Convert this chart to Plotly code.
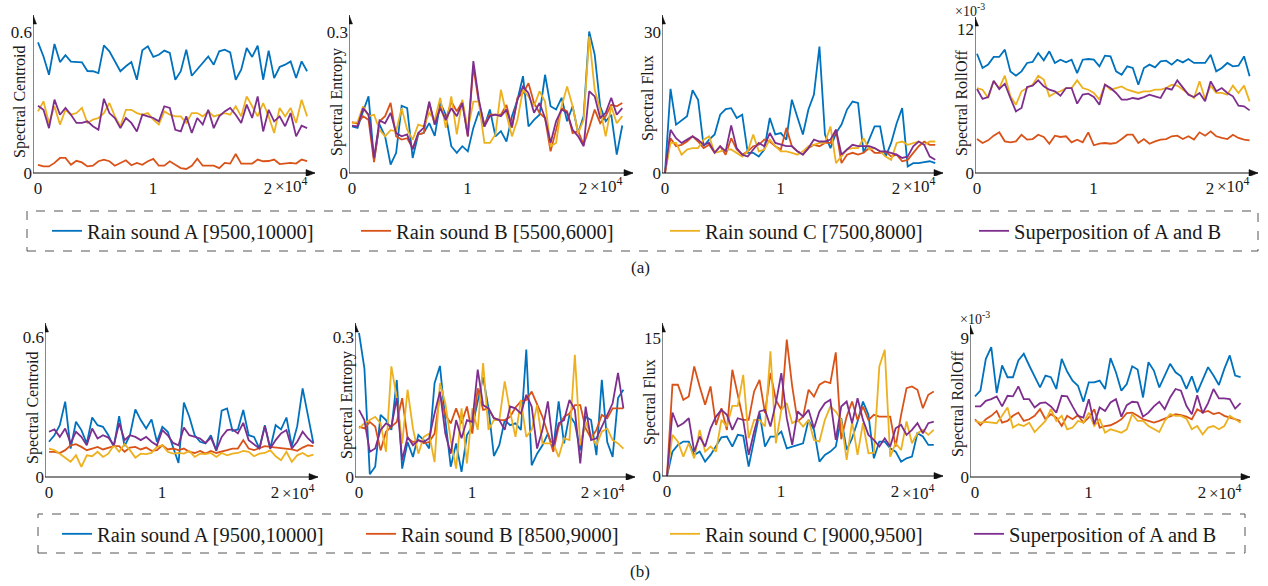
import numpy as np
import plotly.graph_objects as go

W, H = 1268, 586
FONT = "'Times New Roman', 'Liberation Serif', Tinos, serif"

# ---------------- sample positions (time axis) ----------------
t = np.linspace(0, 23400, 50)

# ---------------- (a) values ----------------
cen_a_A = [0.556,0.496,0.418,0.549,0.472,0.501,0.474,0.474,0.471,0.434,0.433,0.425,0.543,0.518,0.475,0.433,0.454,0.472,0.397,0.522,0.539,0.494,0.503,0.521,0.511,0.397,0.433,0.525,0.414,0.440,0.468,0.496,0.461,0.518,0.525,0.513,0.397,0.440,0.532,0.494,0.542,0.397,0.521,0.404,0.451,0.461,0.475,0.404,0.475,0.433]
cen_a_B = [0.035,0.028,0.028,0.043,0.064,0.064,0.035,0.052,0.045,0.028,0.031,0.050,0.057,0.050,0.031,0.043,0.054,0.033,0.043,0.035,0.050,0.060,0.031,0.031,0.050,0.035,0.021,0.017,0.031,0.061,0.031,0.031,0.031,0.021,0.043,0.040,0.081,0.040,0.040,0.040,0.057,0.050,0.051,0.057,0.038,0.040,0.043,0.040,0.057,0.051]
cen_a_C = [0.262,0.305,0.213,0.284,0.206,0.269,0.248,0.255,0.277,0.213,0.227,0.234,0.255,0.298,0.241,0.199,0.269,0.269,0.255,0.248,0.255,0.227,0.206,0.262,0.248,0.241,0.241,0.213,0.255,0.255,0.241,0.262,0.241,0.248,0.255,0.248,0.284,0.241,0.326,0.284,0.241,0.298,0.241,0.170,0.277,0.241,0.277,0.213,0.312,0.241]
cen_a_S = [0.286,0.269,0.191,0.312,0.248,0.277,0.248,0.213,0.213,0.220,0.199,0.184,0.316,0.255,0.234,0.191,0.234,0.213,0.177,0.248,0.241,0.234,0.220,0.284,0.277,0.184,0.177,0.241,0.170,0.234,0.206,0.269,0.191,0.241,0.262,0.277,0.248,0.213,0.291,0.234,0.326,0.177,0.269,0.220,0.241,0.199,0.255,0.156,0.201,0.191]

ent_a_A = [0.099,0.096,0.131,0.163,0.028,0.103,0.078,0.018,0.043,0.143,0.138,0.032,0.082,0.085,0.106,0.079,0.149,0.124,0.057,0.043,0.057,0.046,0.096,0.131,0.099,0.135,0.078,0.089,0.067,0.121,0.156,0.206,0.099,0.113,0.124,0.209,0.142,0.135,0.160,0.110,0.142,0.085,0.121,0.301,0.252,0.142,0.110,0.124,0.039,0.101]
ent_a_B = [0.108,0.105,0.121,0.113,0.023,0.110,0.121,0.149,0.078,0.071,0.074,0.053,0.082,0.085,0.149,0.103,0.142,0.112,0.152,0.131,0.152,0.078,0.227,0.149,0.103,0.124,0.124,0.124,0.145,0.096,0.160,0.170,0.191,0.149,0.128,0.117,0.046,0.092,0.138,0.131,0.085,0.089,0.060,0.096,0.135,0.106,0.121,0.145,0.142,0.149]
ent_a_C = [0.106,0.108,0.142,0.121,0.124,0.092,0.078,0.091,0.089,0.138,0.092,0.071,0.103,0.099,0.128,0.113,0.160,0.096,0.163,0.082,0.156,0.092,0.152,0.152,0.064,0.064,0.082,0.177,0.124,0.078,0.113,0.177,0.163,0.142,0.174,0.152,0.057,0.064,0.142,0.184,0.142,0.085,0.113,0.291,0.177,0.135,0.078,0.142,0.106,0.121]
ent_a_S = [0.101,0.099,0.138,0.124,0.032,0.112,0.106,0.128,0.085,0.078,0.082,0.050,0.085,0.096,0.152,0.103,0.138,0.113,0.138,0.121,0.149,0.078,0.238,0.156,0.099,0.121,0.124,0.121,0.135,0.099,0.156,0.184,0.170,0.128,0.149,0.117,0.064,0.110,0.135,0.128,0.092,0.078,0.057,0.174,0.163,0.117,0.128,0.160,0.124,0.138]

flux_a_A = [0,17.9,10.3,11.3,12.1,17.6,15.6,5.7,7.1,8.2,12.4,13.6,13.8,11.7,12.4,4.3,4.3,3.5,5.0,11.7,8.2,8.5,7.1,15.6,12.1,8.2,13.5,16.7,26.9,8.2,5.3,8.5,10.3,13.5,15.2,14.9,4.3,7.1,9.9,9.9,3.5,6.4,10.6,13.8,1.4,2.1,2.1,2.3,2.5,2.1]
flux_a_B = [0,7.4,5.7,6.0,6.7,7.8,6.7,5.3,6.0,4.3,5.7,3.9,7.4,5.0,3.9,4.6,5.7,6.0,7.1,6.7,5.7,5.0,9.6,5.7,4.6,3.9,5.3,6.0,5.7,6.4,6.4,9.2,2.1,3.9,4.3,3.9,4.3,5.3,4.3,4.3,4.6,3.5,3.9,2.5,2.8,4.3,5.7,6.7,6.0,6.0]
flux_a_C = [0,6.4,6.4,3.9,5.0,5.3,5.3,7.1,7.8,4.3,4.6,5.0,5.0,4.3,3.5,4.6,8.2,4.6,5.0,7.1,5.7,4.6,4.6,4.3,3.9,4.6,5.7,6.0,6.4,6.4,9.9,2.1,3.5,5.0,5.3,5.3,7.4,5.0,5.3,4.6,3.5,2.8,6.4,6.7,6.0,6.4,6.7,6.0,6.7,6.7]
flux_a_S = [0,9.2,7.4,6.4,7.1,7.8,7.1,6.0,6.4,4.3,5.7,4.6,10.1,5.3,3.9,3.5,5.0,6.4,5.7,8.5,6.4,6.0,5.7,5.7,4.6,3.9,5.3,7.1,6.7,6.7,7.1,9.2,3.9,5.0,6.0,5.7,5.7,5.7,5.3,4.6,4.6,4.3,3.9,3.2,3.5,5.7,6.7,6.0,3.5,2.8]

# Spectral RollOff values in units of 1e-3
roll_a_A = [9.94,8.75,9.03,9.67,9.67,10.28,8.47,8.11,8.47,9.17,9.25,10.0,9.39,10.14,9.17,9.44,9.22,9.44,8.33,9.44,9.5,9.44,8.89,9.78,9.72,8.47,8.19,8.89,8.75,7.36,8.75,9.03,8.81,9.31,9.36,9.03,9.44,9.22,9.5,9.17,9.17,9.17,9.86,8.47,8.75,9.17,8.89,8.94,9.72,8.06]
roll_a_B = [2.83,2.5,2.72,3.11,3.39,2.64,2.56,2.64,3.19,2.78,2.83,3.19,3.0,2.44,3.11,3.0,3.06,2.56,2.78,2.56,3.39,2.31,2.44,2.5,2.44,2.5,2.83,3.19,3.19,2.5,2.83,2.44,2.64,2.78,2.83,3.06,3.11,2.83,3.06,2.78,3.39,3.11,3.47,3.06,2.92,2.83,3.19,2.92,2.78,2.72]
roll_a_C = [7.08,6.94,6.25,7.64,7.08,8.11,6.39,5.69,6.81,7.08,7.36,8.11,7.78,6.39,6.67,6.81,7.08,7.08,7.72,7.08,6.94,6.67,6.11,7.36,6.94,7.08,7.22,6.94,6.81,6.67,6.81,6.81,6.94,6.94,7.08,7.36,7.28,6.94,6.53,6.25,7.64,6.17,7.28,6.67,6.67,6.53,7.28,6.67,7.28,5.97]
roll_a_S = [7.0,6.17,6.33,7.69,7.0,7.44,6.25,5.14,5.42,7.17,7.28,7.72,7.22,6.94,6.81,6.44,7.08,7.08,5.78,6.53,6.61,6.33,5.69,7.36,7.08,6.67,6.11,6.11,6.25,6.17,6.33,6.53,6.39,6.25,7.08,6.94,7.72,7.17,6.53,6.33,6.67,5.97,7.64,6.81,7.08,6.67,6.39,5.61,5.56,5.22]

# ---------------- (b) values ----------------
cen_b_A = [0.151,0.179,0.222,0.323,0.122,0.237,0.201,0.144,0.255,0.222,0.215,0.179,0.129,0.261,0.132,0.179,0.290,0.244,0.208,0.247,0.151,0.215,0.194,0.122,0.060,0.319,0.258,0.179,0.151,0.144,0.179,0.112,0.284,0.294,0.198,0.204,0.287,0.179,0.172,0.122,0.222,0.122,0.222,0.204,0.255,0.132,0.218,0.380,0.258,0.144]
cen_b_B = [0.108,0.108,0.103,0.115,0.136,0.141,0.129,0.115,0.122,0.129,0.118,0.126,0.132,0.132,0.108,0.126,0.129,0.118,0.126,0.112,0.115,0.136,0.118,0.122,0.115,0.122,0.108,0.103,0.112,0.100,0.112,0.103,0.108,0.115,0.122,0.122,0.158,0.122,0.115,0.122,0.132,0.129,0.126,0.122,0.122,0.118,0.112,0.126,0.136,0.132]
cen_b_C = [0.122,0.115,0.100,0.083,0.065,0.093,0.043,0.093,0.089,0.108,0.086,0.100,0.136,0.108,0.141,0.115,0.083,0.100,0.098,0.103,0.129,0.136,0.108,0.100,0.103,0.100,0.112,0.086,0.100,0.098,0.103,0.086,0.103,0.093,0.100,0.103,0.112,0.108,0.089,0.100,0.103,0.115,0.089,0.072,0.108,0.065,0.093,0.103,0.089,0.096]
cen_b_S = [0.194,0.204,0.172,0.208,0.144,0.194,0.172,0.136,0.208,0.165,0.179,0.169,0.136,0.230,0.158,0.179,0.172,0.158,0.172,0.151,0.136,0.201,0.179,0.146,0.136,0.212,0.179,0.172,0.165,0.146,0.169,0.115,0.172,0.201,0.204,0.187,0.232,0.158,0.141,0.122,0.218,0.122,0.158,0.187,0.201,0.122,0.151,0.194,0.165,0.144]

ent_b_A = [0.309,0.233,0.006,0.022,0.133,0.122,0.101,0.208,0.018,0.075,0.043,0.090,0.079,0.061,0.201,0.238,0.122,0.022,0.072,0.011,0.090,0.108,0.162,0.214,0.147,0.045,0.068,0.122,0.111,0.115,0.101,0.273,0.025,0.050,0.068,0.093,0.061,0.162,0.072,0.133,0.115,0.057,0.129,0.122,0.047,0.208,0.075,0.043,0.169,0.187]
ent_b_B = [0.108,0.104,0.118,0.108,0.057,0.097,0.108,0.118,0.169,0.083,0.075,0.079,0.072,0.075,0.093,0.176,0.133,0.115,0.147,0.115,0.151,0.093,0.190,0.144,0.147,0.126,0.122,0.122,0.129,0.149,0.162,0.165,0.183,0.154,0.129,0.093,0.054,0.108,0.129,0.136,0.154,0.154,0.104,0.083,0.101,0.133,0.126,0.147,0.147,0.147]
ent_b_C = [0.104,0.115,0.122,0.129,0.115,0.054,0.237,0.169,0.072,0.187,0.104,0.050,0.086,0.093,0.032,0.201,0.158,0.079,0.018,0.147,0.029,0.147,0.101,0.244,0.101,0.122,0.122,0.205,0.140,0.086,0.165,0.086,0.101,0.154,0.072,0.072,0.072,0.043,0.083,0.079,0.262,0.068,0.118,0.090,0.068,0.097,0.104,0.079,0.072,0.061]
ent_b_S = [0.144,0.122,0.054,0.061,0.101,0.115,0.108,0.169,0.036,0.086,0.068,0.079,0.075,0.083,0.136,0.183,0.093,0.050,0.122,0.083,0.122,0.118,0.230,0.154,0.147,0.126,0.122,0.101,0.151,0.147,0.136,0.176,0.151,0.061,0.101,0.162,0.065,0.115,0.122,0.165,0.144,0.029,0.151,0.079,0.083,0.108,0.136,0.158,0.223,0.147]

flux_b_A = [0,2.65,3.38,3.74,3.74,2.29,2.65,1.56,2.29,3.20,4.21,4.29,3.20,4.47,4.36,1.02,3.74,6.83,3.20,4.29,4.29,4.83,3.01,3.20,3.38,3.56,6.10,5.01,1.56,2.29,2.65,3.20,6.28,2.83,4.10,5.92,8.10,6.65,1.92,3.74,3.74,3.01,2.65,1.56,1.92,2.11,4.65,4.29,3.38,3.38]
flux_b_B = [0,9.92,9.92,8.28,8.64,11.91,9.73,7.74,9.73,5.56,7.37,5.01,11.55,8.83,6.10,6.10,9.19,10.46,6.83,11.19,8.28,7.19,14.82,9.73,5.92,6.46,9.37,8.64,9.92,10.28,10.10,13.44,4.0,6.46,8.10,6.10,7.55,6.10,6.65,6.46,6.46,6.46,3.20,6.65,9.55,9.73,9.37,7.37,8.83,9.19]
flux_b_C = [0,4.47,3.74,2.11,3.56,1.92,5.01,2.65,3.20,2.65,6.10,5.38,7.63,7.63,11.0,4.10,6.10,6.10,5.38,13.55,3.56,7.19,7.92,5.74,6.10,5.38,6.10,3.92,3.74,6.10,7.55,7.01,6.10,1.74,5.92,2.29,5.74,2.47,2.54,11.91,13.73,2.11,3.56,2.83,5.92,3.56,4.65,5.01,4.47,5.01]
flux_b_S = [0,6.90,5.38,5.74,6.28,2.65,4.29,3.20,5.19,6.46,7.19,6.65,5.01,6.28,6.10,2.29,4.83,7.01,7.19,5.38,7.92,11.19,6.28,3.38,7.01,6.46,7.19,5.19,7.01,7.92,8.28,3.92,7.55,8.10,5.74,8.46,6.10,4.47,3.92,3.20,4.10,3.20,5.19,5.56,4.47,5.01,5.74,4.65,5.74,5.92]

roll_b_A = [5.22,5.59,7.65,8.41,5.44,7.22,6.46,6.46,7.54,7.98,7.22,6.46,5.80,6.57,6.46,5.70,7.65,6.83,6.24,5.91,4.87,6.13,6.13,6.24,5.70,7.70,6.78,5.59,6.02,7.17,6.96,5.15,7.43,6.89,5.80,6.57,7.33,6.78,6.52,5.70,6.52,5.48,6.35,7.11,6.57,5.96,7.0,7.87,6.57,6.46]
roll_b_B = [3.74,3.35,3.74,3.96,4.28,3.52,3.63,3.96,4.17,3.63,3.74,3.96,4.39,3.74,4.07,3.85,3.30,3.96,3.74,4.0,3.52,3.85,4.39,3.20,3.30,3.35,3.52,3.74,4.13,4.17,3.96,3.74,3.63,3.52,3.63,3.78,3.96,4.07,4.0,3.91,3.74,4.39,4.17,4.28,4.07,4.17,3.96,3.85,3.74,3.63]
roll_b_C = [3.63,3.52,3.57,3.52,3.48,3.96,4.50,3.20,3.41,3.30,3.52,2.91,3.30,3.63,4.39,3.63,3.96,3.09,3.20,3.63,3.52,4.17,3.30,3.74,2.87,3.09,2.98,2.87,3.09,4.07,3.63,3.63,3.30,3.09,2.91,3.63,4.07,3.96,3.96,3.78,3.09,3.30,2.76,3.20,3.30,3.09,3.30,3.96,3.74,3.52]
roll_b_S = [4.57,4.57,4.93,5.04,5.22,4.57,5.26,5.22,5.87,5.04,5.04,4.50,4.78,4.83,4.57,4.17,5.26,5.22,4.57,3.96,3.85,5.04,3.41,4.50,4.28,4.83,5.04,3.91,4.65,4.87,4.83,3.91,4.17,4.57,4.87,4.39,5.15,5.70,5.59,4.61,4.07,5.30,4.13,4.78,5.70,5.09,5.09,5.04,4.43,4.78]

names_a = ["Rain sound A [9500,10000]", "Rain sound B [5500,6000]",
           "Rain sound C [7500,8000]", "Superposition of A and B"]
names_b = ["Rain sound A [9500,10000]", "Rain sound B [8500,9000]",
           "Rain sound C [9000,9500]", "Superposition of A and B"]
colors = ["#0072BD", "#D95319", "#EDB120", "#7E2F8E"]

ytitles = ["Spectral Centroid", "Spectral Entropy", "Spectral Flux", "Spectral RollOff"]
ytop = [0.6, 0.3, 30, 12, 0.6, 0.3, 15, 9]
ytop_txt = ["0.6", "0.3", "30", "12", "0.6", "0.3", "15", "9"]

series = [
    [cen_a_A, cen_a_B, cen_a_C, cen_a_S],
    [ent_a_A, ent_a_B, ent_a_C, ent_a_S],
    [flux_a_A, flux_a_B, flux_a_C, flux_a_S],
    [roll_a_A, roll_a_B, roll_a_C, roll_a_S],
    [cen_b_A, cen_b_B, cen_b_C, cen_b_S],
    [ent_b_A, ent_b_B, ent_b_C, ent_b_S],
    [flux_b_A, flux_b_B, flux_b_C, flux_b_S],
    [roll_b_A, roll_b_B, roll_b_C, roll_b_S],
]

# ---------------- panel geometry (pixels) ----------------
geo = [
    dict(px0=38, ppx=115, axL=33, axR=315, py0=173, pyT=32, top=15, tx=20, ty=102, lab=185),
    dict(px0=352, ppx=115.5, axL=349, axR=633, py0=173, pyT=32, top=15, tx=337, ty=102, lab=185),
    dict(px0=665, ppx=115.5, axL=662, axR=943, py0=173, pyT=32, top=15, tx=648, ty=98, lab=185),
    dict(px0=977, ppx=116.5, axL=975, axR=1258, py0=173, pyT=29, top=17, tx=962, ty=102, lab=185),
    dict(px0=49, ppx=113, axL=45, axR=318, py0=477, pyT=337, top=323, tx=33, ty=408, lab=492),
    dict(px0=359, ppx=113, axL=355, axR=635, py0=477, pyT=337, top=323, tx=347, ty=405, lab=492),
    dict(px0=667, ppx=114, axL=662, axR=943, py0=476, pyT=338, top=323, tx=650, ty=402, lab=492),
    dict(px0=975, ppx=113.5, axL=970, axR=1250, py0=477, pyT=338, top=325, tx=958, ty=404, lab=492),
]

fig = go.Figure()
annotations = []
shapes = []
tickfont = dict(family=FONT, size=17, color="#1a1a1a")
AX = "#111111"

for i, g in enumerate(geo):
    k = i + 1
    xs = "x" if k == 1 else f"x{k}"
    ys = "y" if k == 1 else f"y{k}"
    xr = [(g["axL"] - g["px0"]) / g["ppx"] * 1e4, (g["axR"] - g["px0"]) / g["ppx"] * 1e4]
    ppy = (g["py0"] - g["pyT"]) / ytop[i]
    pad = 3
    yr = [-pad / ppy, (g["py0"] - g["top"]) / ppy]
    fig.layout["xaxis" if k == 1 else f"xaxis{k}"] = dict(
        domain=[g["axL"] / W, g["axR"] / W], range=xr, anchor=ys,
        tickvals=[0, 1e4, 2e4], ticktext=["0", "1", "2"], ticks="",
        showgrid=False, zeroline=False, showline=False, tickfont=tickfont,
    )
    fig.layout["yaxis" if k == 1 else f"yaxis{k}"] = dict(
        domain=[1 - (g["py0"] + pad) / H, 1 - g["top"] / H], range=yr, anchor=xs,
        tickvals=[0, ytop[i]], ticktext=["0", ytop_txt[i]], ticks="",
        showgrid=False, zeroline=False, showline=False, tickfont=tickfont,
    )
    names = names_a if k <= 4 else names_b
    leg = "legend" if k <= 4 else "legend2"
    for j in range(4):
        fig.add_trace(go.Scatter(
            x=t, y=series[i][j], mode="lines", name=names[j],
            line=dict(color=colors[j], width=1.8),
            xaxis=xs, yaxis=ys, legend=leg,
            showlegend=(k in (1, 5)),
            legendwidth=(210 if j == 3 else None),
        ))
    # axis lines
    shapes.append(dict(type="line", xref=xs, yref=ys, x0=xr[0], x1=xr[1], y0=0, y1=0,
                       line=dict(color=AX, width=1)))
    shapes.append(dict(type="line", xref=xs, yref=ys, x0=xr[0], x1=xr[0], y0=0, y1=yr[1],
                       line=dict(color=AX, width=1)))
    # arrow heads (pixel-sized triangles anchored at the axis ends)
    shapes.append(dict(type="path", xref=xs, yref=ys, xsizemode="pixel", ysizemode="pixel",
                       xanchor=xr[1], yanchor=0, path="M0,0 L-9,3.5 L-9,-3.5 Z",
                       fillcolor=AX, line=dict(color=AX, width=0.5)))
    shapes.append(dict(type="path", xref=xs, yref=ys, xsizemode="pixel", ysizemode="pixel",
                       xanchor=xr[0], yanchor=yr[1], path="M0,0 L-3.5,-9 L3.5,-9 Z",
                       fillcolor=AX, line=dict(color=AX, width=0.5)))
    annotations.append(dict(x=2e4, y=1 - g["lab"] / H, xref=xs, yref="paper", xanchor="left",
                            yanchor="middle", xshift=5, text="×10<sup>4</sup>", showarrow=False,
                            font=dict(family=FONT, size=17, color="#1a1a1a")))
    annotations.append(dict(x=g["tx"] / W, y=1 - g["ty"] / H, xref="paper", yref="paper",
                            text=ytitles[i % 4], textangle=-90, showarrow=False,
                            xanchor="center", yanchor="middle",
                            font=dict(family=FONT, size=16, color="#1a1a1a")))

for (mx, my) in [(970, 10), (975, 318)]:
    annotations.append(dict(x=mx / W, y=1 - my / H, xref="paper", yref="paper",
                            text="×10<sup>-3</sup>", showarrow=False, xanchor="center",
                            yanchor="middle", font=dict(family=FONT, size=14, color="#1a1a1a")))

for (txt, cy) in [("(a)", 268), ("(b)", 571)]:
    annotations.append(dict(x=640 / W, y=1 - cy / H, xref="paper", yref="paper", text=txt,
                            showarrow=False, xanchor="center", yanchor="middle",
                            font=dict(family=FONT, size=17, color="#1a1a1a")))

for (x0, x1, y0, y1) in [(27, 1258, 211, 251), (38, 1245, 514, 553)]:
    shapes.append(dict(type="rect", xref="paper", yref="paper", x0=x0 / W, x1=x1 / W,
                       y0=1 - y1 / H, y1=1 - y0 / H, line=dict(color="#555", width=1, dash="dash"),
                       fillcolor="rgba(0,0,0,0)"))

legfont = dict(family=FONT, size=20.5, color="#1a1a1a")
fig.update_layout(
    width=W, height=H,
    margin=dict(l=0, r=0, t=0, b=0, autoexpand=False),
    paper_bgcolor="white", plot_bgcolor="white",
    font=dict(family=FONT),
    annotations=annotations, shapes=shapes,
    legend=dict(orientation="h", x=47 / W, y=1 - 231 / H, xanchor="left", yanchor="middle",
                entrywidth=264, entrywidthmode="pixels", font=legfont,
                bgcolor="rgba(0,0,0,0)", borderwidth=0),
    legend2=dict(orientation="h", x=57 / W, y=1 - 534 / H, xanchor="left", yanchor="middle",
                 entrywidth=259, entrywidthmode="pixels", font=legfont,
                 bgcolor="rgba(0,0,0,0)", borderwidth=0),
)

fig.write_html("out.html", config={"displayModeBar": False},
               post_script="document.body.style.margin='0';document.body.style.padding='0';")
